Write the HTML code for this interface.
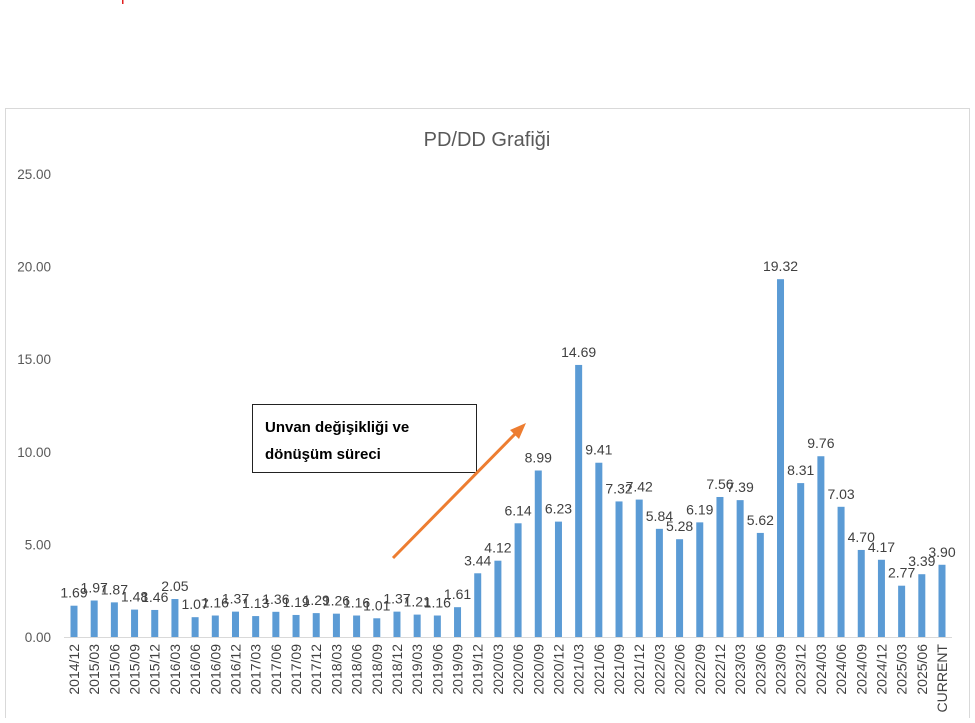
<!DOCTYPE html>
<html><head><meta charset="utf-8"><style>
body{margin:0;width:975px;height:718px;background:#fff;overflow:hidden;font-family:"Liberation Sans","DejaVu Sans",sans-serif}
</style></head><body>
<svg id="c" width="975" height="718" xmlns="http://www.w3.org/2000/svg">
<rect x="122" y="0" width="1.5" height="4" fill="#e02020"/>
<rect x="5.5" y="108.5" width="964" height="620" fill="#fff" stroke="#d9d9d9"/>
<text x="487" y="146" text-anchor="middle" font-size="20" fill="#595959">PD/DD Grafiği</text>
<g id="yaxis"></g><g id="bars"></g><g id="xl"></g>
<line x1="64" y1="637.5" x2="952" y2="637.5" stroke="#d9d9d9"/>
<rect x="252.5" y="404.5" width="224" height="68" fill="#fff" stroke="#222"/>
<text x="265" y="432" font-size="15" font-weight="bold" fill="#000">Unvan değişikliği ve</text>
<text x="265" y="459" font-size="15" font-weight="bold" fill="#000">dönüşüm süreci</text>
<line x1="393" y1="558" x2="517" y2="432" stroke="#ed7d31" stroke-width="3"/>
<polygon points="526,423 510,430 519,439" fill="#ed7d31"/>
</svg>
<script>
const categories=["2014/12","2015/03","2015/06","2015/09","2015/12","2016/03","2016/06","2016/09","2016/12","2017/03","2017/06","2017/09","2017/12","2018/03","2018/06","2018/09","2018/12","2019/03","2019/06","2019/09","2019/12","2020/03","2020/06","2020/09","2020/12","2021/03","2021/06","2021/09","2021/12","2022/03","2022/06","2022/09","2022/12","2023/03","2023/06","2023/09","2023/12","2024/03","2024/06","2024/09","2024/12","2025/03","2025/06","CURRENT"];
const values=[1.69,1.97,1.87,1.48,1.46,2.05,1.07,1.16,1.37,1.13,1.36,1.19,1.29,1.26,1.16,1.01,1.37,1.21,1.16,1.61,3.44,4.12,6.14,8.99,6.23,14.69,9.41,7.32,7.42,5.84,5.28,6.19,7.56,7.39,5.62,19.32,8.31,9.76,7.03,4.70,4.17,2.77,3.39,3.90];
const yTicks=[0,5,10,15,20,25];
const NS="http://www.w3.org/2000/svg";
const y0=637,yTop=174,yMax=25;
function ys(v){return y0-(v/yMax)*(y0-yTop);}
function xs(i){return 74+i*(942-74)/(categories.length-1);}
function mk(t,a,p){const e=document.createElementNS(NS,t);for(const k in a)e.setAttribute(k,a[k]);p.appendChild(e);return e;}
const ya=document.getElementById('yaxis'),bg=document.getElementById('bars'),xl=document.getElementById('xl');
yTicks.forEach(v=>{const t=mk('text',{x:51,y:ys(v)+5,'text-anchor':'end','font-size':13.5,fill:'#595959'},ya);t.textContent=v.toFixed(2);

});
values.forEach((v,i)=>{const r=mk('rect',{x:xs(i)-3.5,y:ys(v),width:7,height:y0-ys(v),fill:'#5b9bd5'},bg);


const l=mk('text',{x:xs(i),y:ys(v)-8,'text-anchor':'middle','font-size':14,fill:'#404040'},bg);l.textContent=v.toFixed(2);


const c=mk('text',{x:0,y:0,'text-anchor':'end','font-size':14,fill:'#404040',transform:`translate(${xs(i)+5},644) rotate(-90)`},xl);c.textContent=categories[i];

});
</script>
</body></html>
